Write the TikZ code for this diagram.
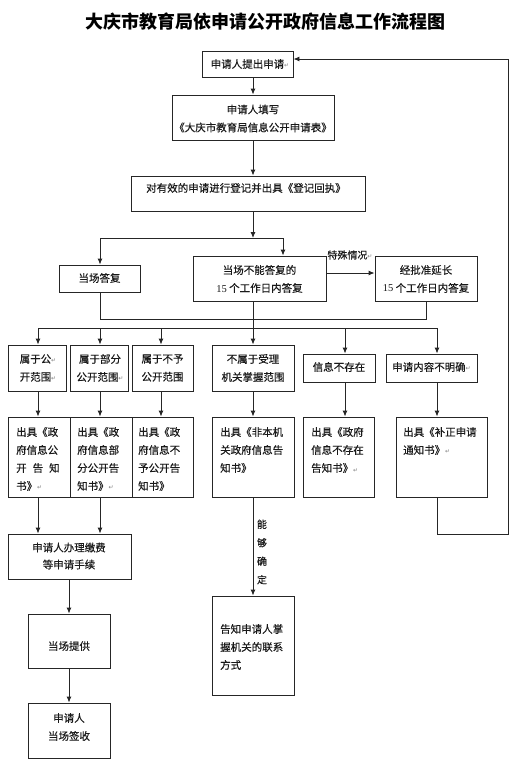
\documentclass[tikz,border=0pt]{standalone}
\usepackage{fontspec}
\setmainfont{Noto Sans CJK SC}
\newfontfamily\txfont{Noto Sans CJK SC}[FakeBold=0.35]
\newfontfamily\fnumfont{Liberation Serif}
\newfontfamily\retfont{DejaVu Sans}
\usetikzlibrary{arrows.meta,calc}
\newcommand\rmark{{\retfont\color{gray}\fontsize{6}{6}\selectfont\char"21B5}}
\newcommand\fnum[1]{{\fnumfont #1}}
\newcommand\bx[5]{\node[box, minimum width={(#4-#2)*1pt}, minimum height={(#5-#3)*1pt}] (#1) at ({(#2+#4)/2},{(#3+#5)/2}) {};}
\begin{document}
\begin{tikzpicture}[x=1pt,y=-1pt,
  box/.style={draw=black!85, line width=0.9pt, inner sep=0pt, fill=white},
  txt/.style={font=\txfont\fontsize{10.5}{18}\selectfont, inner sep=0pt, align=center, text=black!90},
  ltxt/.style={txt, align=left, anchor=west},
  arr/.style={draw=black!85, line width=0.9pt, -{Latex[length=6pt,width=5pt]}},
  ln/.style={draw=black!85, line width=0.9pt}]
\useasboundingbox[fill=white] (0,0) rectangle (530,763);

% title
\node[font=\fontsize{18}{20}\selectfont\bfseries, inner sep=0pt] (title) at (265,22) {大庆市教育局依申请公开政府信息工作流程图};

% boxes
\bx{b1}{202}{51}{293}{77}
\bx{b2}{172}{95}{334}{140}
\bx{b3}{131}{176}{365}{211}
\bx{b4}{59}{265}{140}{292}
\bx{b5}{193}{256}{326}{301}
\bx{b6}{375}{256}{477}{301}
\bx{r1}{8}{345}{66}{391}
\bx{r2}{70}{345}{128}{391}
\bx{r3}{132}{345}{193}{391}
\bx{r4}{212}{345}{294}{391}
\bx{r5}{303}{354}{375}{382}
\bx{r6}{386}{354}{477}{382}
\bx{s1}{8}{417}{70}{497}
\bx{s2}{70}{417}{132}{497}
\bx{s3}{132}{417}{193}{497}
\bx{s4}{212}{417}{294}{497}
\bx{s5}{303}{417}{374}{497}
\bx{s6}{396}{417}{487}{497}
\bx{f1}{8}{534}{131}{579}
\bx{f2}{28}{614}{110}{668}
\bx{f3}{28}{703}{110}{758}
\bx{g}{212}{596}{294}{695}

% texts
\node[txt] (t1) at (250,64) {申请人提出申请\rmark};
\node[txt] (t2) at (253,118.5) {申请人填写\\《大庆市教育局信息公开申请表》};
\node[txt] (t3) at (246,188) {对有效的申请进行登记并出具《登记回执》};
\node[txt] (t4) at (99.5,278) {当场答复};
\node[txt] (t5) at (259.5,279) {当场不能答复的\\\fnum{15} 个工作日内答复};
\node[txt] (t6) at (426,279) {经批准延长\\\fnum{15} 个工作日内答复};
\node[txt, font=\txfont\fontsize{10}{12}\selectfont] (tsp) at (350,255) {特殊情况\rmark};
\node[txt] (tr1) at (38,368) {属于公\rmark\\开范围\rmark};
\node[txt] (tr2) at (100,368) {属于部分\\公开范围\rmark};
\node[txt] (tr3) at (162.5,368) {属于不予\\公开范围};
\node[txt] (tr4) at (253,368) {不属于受理\\机关掌握范围};
\node[txt] (tr5) at (339,367) {信息不存在};
\node[txt] (tr6) at (431.5,367) {申请内容不明确\rmark};
\node[ltxt] (ts1) at (16,459) {出具《政\\府信息公\\开\hspace{6pt}告\hspace{6pt}知\\书》\rmark};
\node[ltxt] (ts2) at (77,459) {出具《政\\府信息部\\分公开告\\知书》\rmark};
\node[ltxt] (ts3) at (138,459) {出具《政\\府信息不\\予公开告\\知书》};
\node[ltxt] (ts4) at (220,450) {出具《非本机\\关政府信息告\\知书》};
\node[ltxt] (ts5) at (311,450) {出具《政府\\信息不存在\\告知书》\rmark};
\node[ltxt] (ts6) at (403,441) {出具《补正申请\\通知书》\rmark};
\node[txt, font=\txfont\fontsize{10.5}{17}\selectfont] (tf1) at (69,556) {申请人办理缴费\\等申请手续};
\node[txt] (tf2) at (69,646) {当场提供};
\node[txt] (tf3) at (69,727) {申请人\\当场签收};
\node[ltxt] (tg) at (220,647) {告知申请人掌\\握机关的联系\\方式};
\node[txt, font=\txfont\fontsize{10}{18.5}\selectfont] (tcan) at (262,552) {能\\够\\确\\定};

% connectors
\draw[arr] (b2.north |- b1.south) -- (b2.north);
\draw[arr] (b2.south) -- (b2.south |- b3.north);
\coordinate (j0) at (253,238);
\coordinate (jL) at (100,238);
\coordinate (jR) at (283,238);
\draw[arr] (b2.south |- b3.south) -- (j0);
\draw[ln] (jL) -- (jR);
\draw[arr] (jL) -- (jL |- b4.north);
\draw[arr] (jR) -- (jR |- b5.north);
\coordinate (sp) at (0,273);
\draw[arr] (b5.east |- sp) -- (b6.west |- sp);
\coordinate (m1) at (100,319);
\coordinate (m2) at (426,319);
\draw[ln] (m1 |- b4.south) -- (m1) -- (m2) -- (m2 |- b6.south);
\draw[arr] (r4.north |- b5.south) -- (r4.north);
\coordinate (d1) at (38,328);
\coordinate (d2) at (100,328);
\coordinate (d3) at (161,328);
\coordinate (d5) at (345,328);
\coordinate (d6) at (437,328);
\draw[ln] (d1) -- (d6);
\draw[arr] (d1) -- (d1 |- r1.north);
\draw[arr] (d2) -- (d2 |- r2.north);
\draw[arr] (d3) -- (d3 |- r3.north);
\draw[arr] (d5) -- (d5 |- r5.north);
\draw[arr] (d6) -- (d6 |- r6.north);
\draw[arr] (d1 |- r1.south) -- (d1 |- s1.north);
\draw[arr] (d2 |- r2.south) -- (d2 |- s2.north);
\draw[arr] (d3 |- r3.south) -- (d3 |- s3.north);
\draw[arr] (r4.south) -- (s4.north);
\draw[arr] (d5 |- r5.south) -- (d5 |- s5.north);
\draw[arr] (d6 |- r6.south) -- (d6 |- s6.north);
\draw[arr] (d1 |- s1.south) -- (d1 |- f1.north);
\draw[arr] (d2 |- s2.south) -- (d2 |- f1.north);
\draw[arr] (f2.north |- f1.south) -- (f2.north);
\draw[arr] (f2.south) -- (f3.north);
\draw[arr] (s4.south) -- (g.north);
\coordinate (fb1) at (437,534);
\coordinate (fb2) at (508,534);
\coordinate (fb3) at (508,59);
\draw[arr] (d6 |- s6.south) -- (fb1) -- (fb2) -- (fb3) -- (b1.east |- fb3);
\end{tikzpicture}
\end{document}
